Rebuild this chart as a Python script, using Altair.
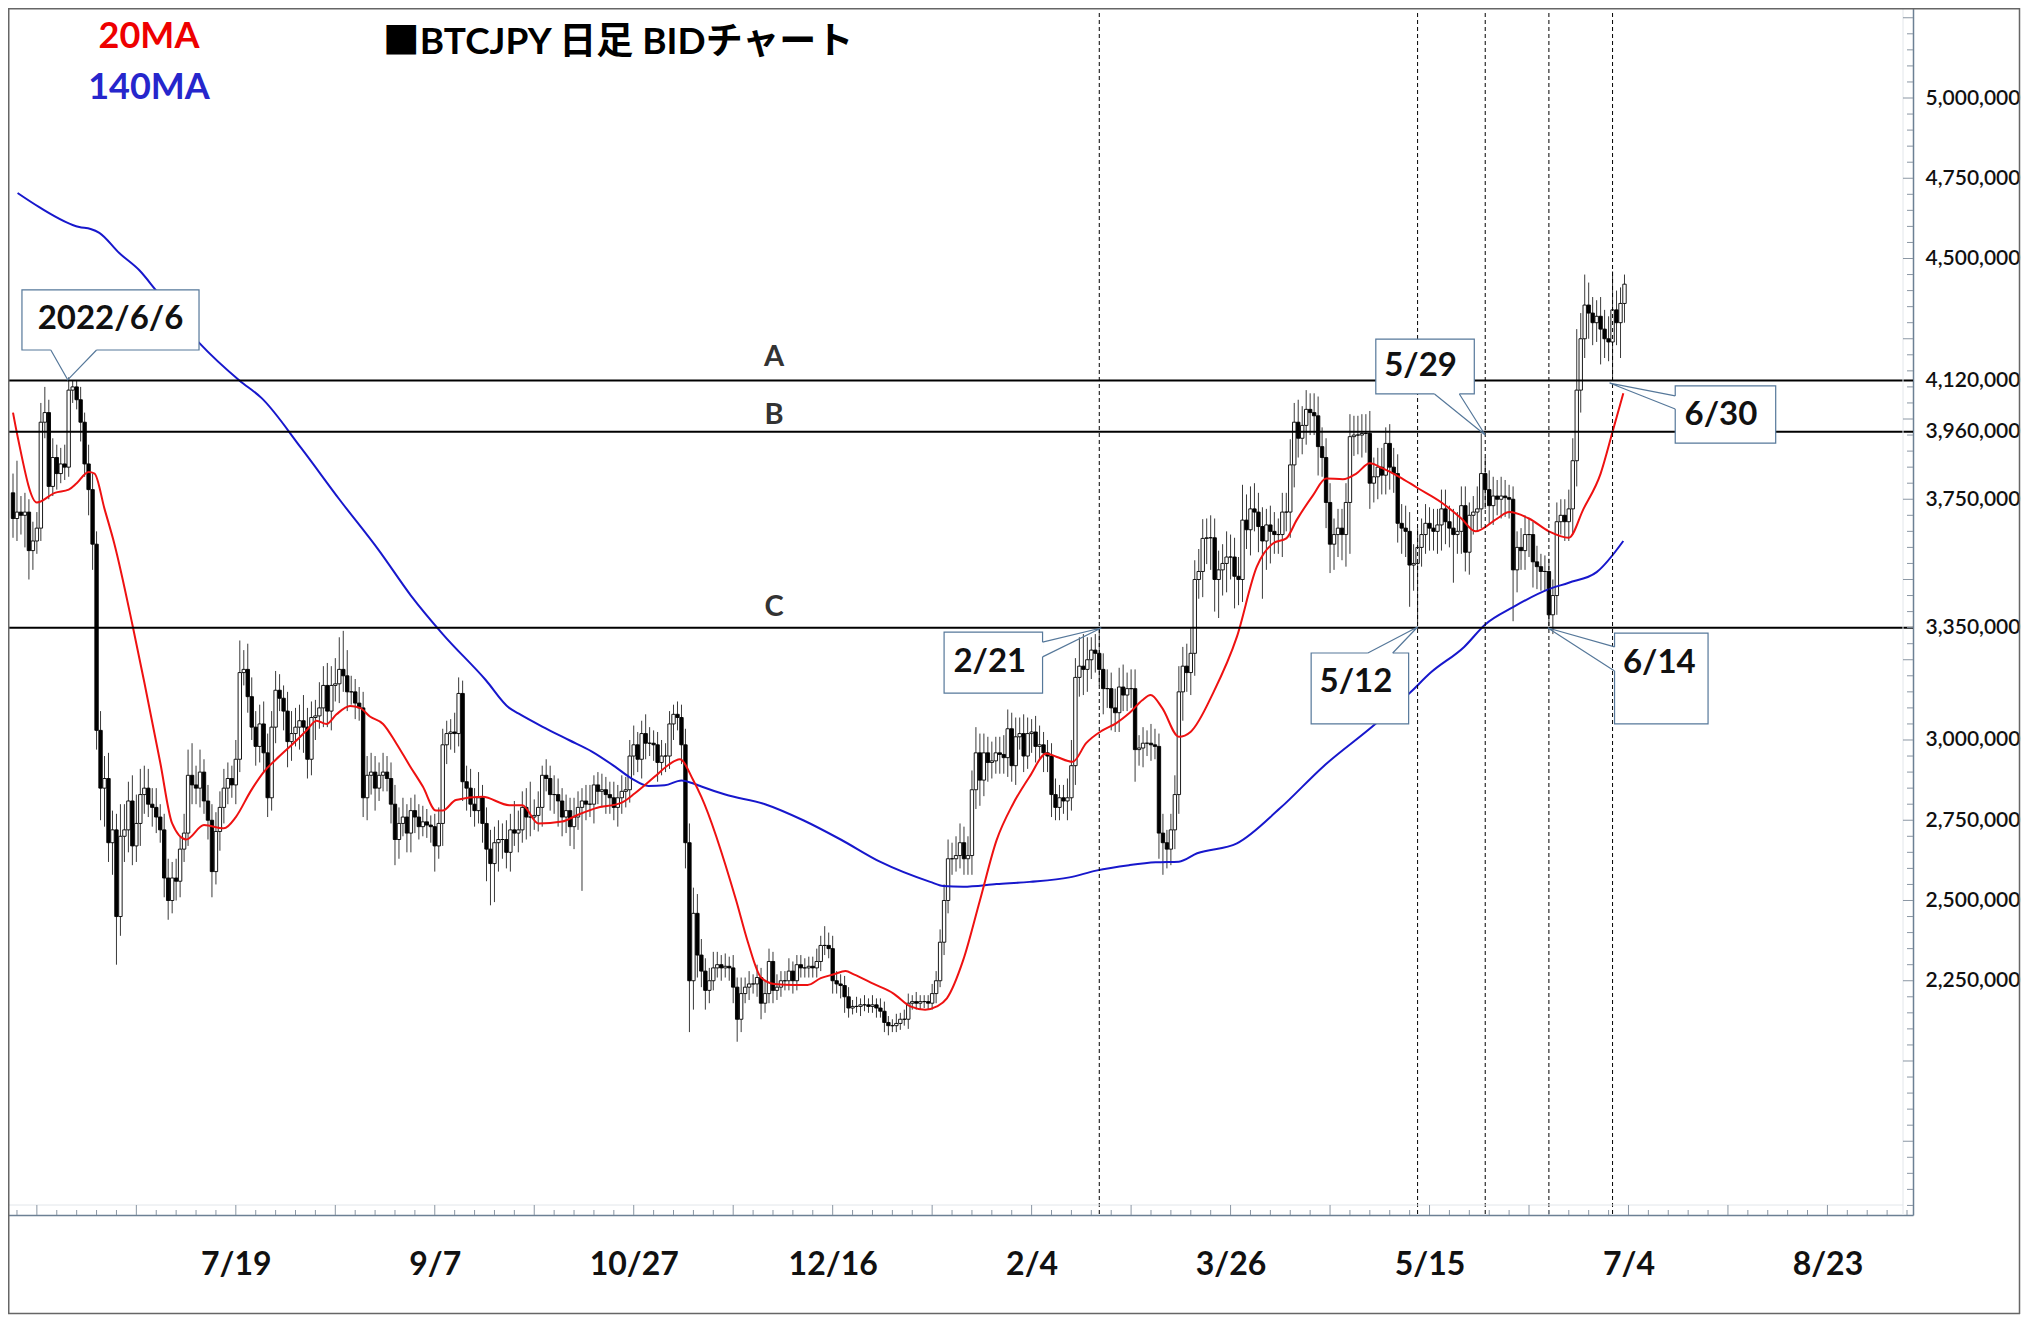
import altair as alt
import numpy as np
import pandas as pd

# ---------------- data ----------------
START = "2022-05-24"          # first daily candle
FIRST_OPEN_K = 3770           # open of the first candle (thousand JPY)

# daily closes, thousand JPY
CLOSE_K = [
    3690, 3710, 3700, 3710, 3590, 3620, 3660, 3990, 4020, 3790,
    3880, 3830, 3860, 3850, 4090, 4100, 4060, 3990, 3860, 3780,
    3610, 3030, 2850, 2880, 2680, 2720, 2450, 2700, 2720, 2810,
    2670, 2740, 2830, 2850, 2800, 2790, 2760, 2720, 2570, 2500,
    2570, 2560, 2660, 2710, 2890, 2860, 2850, 2900, 2810, 2750,
    2590, 2715, 2790, 2850, 2880, 2860, 2940, 3210, 3220, 3135,
    3040, 2980, 3050, 2960, 2820, 3040, 3155, 3130, 3090, 2995,
    3020, 3040, 3060, 3040, 2940, 3070, 3075, 3100, 3170, 3090,
    3170, 3175, 3220, 3200, 3150, 3150, 3115, 3100, 2820, 2890,
    2900, 2850, 2890, 2900, 2880, 2800, 2690, 2740, 2760, 2710,
    2780, 2760, 2730, 2745, 2735, 2730, 2670, 2740, 2985, 3020,
    3025, 3020, 3145, 2870, 2850, 2800, 2780, 2820, 2740, 2660,
    2615, 2680, 2690, 2690, 2650, 2720, 2710, 2720, 2790, 2760,
    2760, 2765, 2790, 2890, 2880, 2830, 2830, 2810, 2760, 2780,
    2730, 2760, 2790, 2810, 2800, 2800, 2860, 2840, 2845, 2830,
    2820, 2790, 2820, 2840, 2845, 2950, 2985, 2940, 3020, 2990,
    2990, 2985, 2930, 2950, 2950, 3050, 3080, 3070, 2985, 2680,
    2250, 2460, 2330, 2280, 2220, 2250, 2290, 2300, 2290, 2295,
    2290, 2230, 2130, 2210, 2230, 2240, 2240, 2260, 2180, 2210,
    2310, 2220, 2230, 2250, 2250, 2280, 2250, 2300, 2290, 2290,
    2295, 2290, 2310, 2360, 2360, 2350, 2250, 2240, 2235, 2200,
    2165, 2170, 2170, 2175, 2175, 2170, 2175, 2165, 2155, 2120,
    2110, 2110, 2117, 2130, 2130, 2180, 2185, 2180, 2185, 2185,
    2180, 2210, 2250, 2370, 2500, 2630, 2630, 2640, 2680, 2630,
    2640, 2845, 2960, 2875, 2960, 2930, 2935, 2960, 2955, 2945,
    3035, 2920, 3010, 3020, 2950, 3020, 3025, 2980, 2985, 2960,
    2950, 2830, 2790, 2820, 2810, 2820, 2920, 3195, 3230, 3220,
    3250, 3280, 3270, 3220, 3160, 3160, 3100, 3085, 3165, 3140,
    3160, 3160, 2970, 2975, 2990, 2990, 2985, 2980, 2710, 2680,
    2660, 2720, 2830, 3150, 3230, 3210, 3270, 3500, 3525, 3628,
    3630, 3630, 3500, 3530, 3550, 3570, 3570, 3510, 3500, 3685,
    3655, 3720, 3710, 3665, 3620, 3670, 3650, 3640, 3640, 3710,
    3710, 3857, 3990, 3940, 3980, 4030, 4020, 4010, 3914, 3880,
    3740, 3610, 3640, 3660, 3640, 3740, 3945, 3950, 3950, 3955,
    3955, 3800, 3820, 3850, 3825, 3924, 3850, 3830, 3675, 3660,
    3650, 3545, 3550, 3600, 3640, 3675, 3660, 3650, 3670, 3720,
    3680, 3660, 3640, 3650, 3730, 3585, 3700, 3710, 3720, 3830,
    3780, 3730, 3760, 3750, 3760, 3755, 3750, 3530, 3600, 3590,
    3640, 3640, 3555, 3540, 3525, 3525, 3390, 3450, 3680, 3700,
    3680, 3720, 3870, 4090, 4250, 4355, 4330, 4300, 4320, 4280,
    4250, 4240, 4340, 4300, 4360, 4420,
]

# upper wick above the body, thousand JPY
UP_WICK_K = [
    60, 160, 50, 60, 40, 60, 50, 60, 80, 40,
    60, 40, 50, 60, 40, 20, 20, 40, 30, 60,
    50, 40, 60, 70, 80, 60, 50, 100, 80, 60,
    80, 90, 80, 70, 60, 50, 60, 40, 50, 60,
    50, 60, 40, 60, 80, 100, 60, 70, 40, 50,
    50, 60, 50, 60, 50, 40, 60, 100, 60, 80,
    60, 50, 60, 70, 60, 50, 60, 50, 40, 60,
    70, 60, 50, 80, 60, 50, 50, 80, 60, 70,
    60, 80, 100, 120, 80, 50, 40, 50, 50, 60,
    60, 50, 40, 60, 50, 50, 60, 50, 60, 40,
    40, 50, 40, 50, 40, 30, 40, 50, 50, 40,
    40, 60, 50, 40, 50, 60, 50, 80, 40, 50,
    60, 50, 60, 50, 60, 50, 90, 60, 50, 60,
    110, 50, 50, 30, 50, 40, 60, 50, 40, 50,
    40, 60, 50, 40, 50, 60, 30, 40, 50, 40,
    40, 50, 40, 50, 40, 50, 60, 40, 40, 60,
    50, 40, 40, 50, 40, 40, 30, 40, 40, 50,
    60, 80, 60, 50, 40, 40, 50, 40, 30, 40,
    30, 40, 30, 50, 30, 40, 30, 40, 30, 40,
    40, 30, 40, 30, 30, 40, 30, 30, 30, 30,
    30, 30, 40, 30, 60, 40, 40, 30, 30, 30,
    30, 20, 30, 20, 30, 20, 30, 20, 30, 30,
    20, 20, 30, 20, 30, 30, 20, 30, 20, 20,
    20, 30, 30, 40, 50, 60, 50, 60, 60, 50,
    60, 60, 80, 60, 60, 50, 60, 50, 50, 60,
    60, 50, 60, 50, 60, 50, 40, 50, 60, 40,
    40, 40, 50, 40, 40, 60, 80, 60, 90, 100,
    70, 40, 50, 80, 50, 60, 50, 60, 60, 70,
    50, 60, 60, 40, 50, 40, 60, 50, 40, 60,
    40, 50, 60, 80, 60, 70, 80, 60, 70, 60,
    60, 70, 60, 60, 60, 80, 70, 60, 60, 110,
    80, 70, 80, 60, 60, 50, 60, 60, 50, 60,
    60, 80, 60, 70, 60, 60, 50, 60, 60, 60,
    60, 60, 50, 60, 60, 60, 70, 60, 60, 60,
    60, 70, 60, 60, 60, 50, 60, 60, 60, 60,
    70, 60, 60, 60, 50, 60, 50, 60, 50, 60,
    60, 50, 60, 60, 60, 60, 40, 50, 70, 125,
    50, 60, 60, 50, 60, 50, 40, 40, 50, 60,
    60, 50, 40, 50, 40, 50, 40, 50, 60, 50,
    50, 60, 70, 190, 80, 95, 70, 50, 50, 60,
    60, 70, 120, 60, 50, 30,
]

# lower wick below the body, thousand JPY
DN_WICK_K = [
    60, 70, 60, 100, 90, 60, 40, 40, 50, 40,
    30, 50, 30, 40, 30, 40, 30, 60, 40, 80,
    80, 60, 100, 120, 60, 100, 150, 60, 80, 70,
    60, 50, 70, 60, 40, 60, 50, 40, 60, 60,
    40, 60, 50, 40, 40, 60, 50, 60, 40, 60,
    80, 40, 60, 50, 50, 40, 60, 40, 40, 50,
    40, 60, 50, 60, 60, 40, 50, 40, 60, 80,
    60, 40, 70, 80, 60, 50, 70, 40, 60, 50,
    60, 50, 60, 50, 60, 40, 50, 40, 60, 70,
    60, 70, 40, 50, 40, 60, 80, 60, 40, 60,
    60, 50, 40, 30, 40, 50, 80, 40, 70, 60,
    50, 60, 40, 60, 70, 40, 50, 40, 60, 100,
    130, 120, 90, 60, 50, 60, 40, 60, 40, 70,
    60, 40, 50, 60, 40, 50, 60, 80, 60, 50,
    60, 70, 40, 260, 50, 40, 60, 40, 50, 60,
    50, 40, 60, 50, 50, 40, 60, 40, 60, 50,
    40, 50, 60, 40, 50, 40, 50, 40, 60, 80,
    160, 90, 70, 50, 60, 40, 30, 30, 40, 30,
    40, 50, 70, 40, 30, 40, 30, 40, 50, 30,
    30, 40, 30, 30, 30, 30, 40, 30, 30, 30,
    30, 30, 30, 30, 30, 30, 40, 30, 40, 50,
    30, 20, 20, 30, 20, 20, 20, 30, 20, 30,
    30, 20, 20, 20, 20, 30, 20, 20, 20, 20,
    20, 20, 30, 20, 40, 40, 50, 40, 40, 50,
    50, 60, 60, 80, 50, 60, 50, 40, 60, 50,
    60, 50, 60, 40, 50, 40, 60, 50, 40, 60,
    50, 70, 40, 40, 40, 60, 40, 60, 60, 80,
    70, 60, 60, 50, 80, 60, 70, 60, 60, 50,
    50, 60, 100, 50, 60, 40, 50, 40, 80, 100,
    60, 50, 60, 60, 90, 60, 70, 70, 60, 80,
    80, 100, 100, 120, 80, 90, 70, 100, 80, 70,
    60, 80, 60, 80, 180, 90, 100, 60, 60, 70,
    60, 80, 70, 60, 50, 60, 70, 60, 90, 60,
    80, 90, 80, 70, 80, 100, 160, 60, 60, 70,
    60, 80, 60, 70, 60, 60, 70, 60, 60, 80,
    80, 130, 80, 190, 60, 60, 70, 60, 70, 80,
    70, 60, 150, 60, 70, 60, 70, 60, 60, 60,
    60, 60, 60, 50, 60, 60, 60, 160, 70, 60,
    60, 70, 80, 70, 60, 60, 35, 60, 60, 40,
    60, 60, 80, 80, 70, 60, 80, 70, 60, 110,
    60, 60, 120, 70, 110, 60,
]

# 20-day moving average (day offset from START, million JPY)
MA20_DAY = [0, 1.25, 6, 10.5, 14, 16, 19, 20.5, 23, 25.5, 30, 33, 37, 40, 43.5, 48, 53, 56,
            59.7, 63, 67, 70.5, 73.8, 76.3, 78.8, 81.3, 84.7, 87.2, 89.7, 93, 96.3, 99.7, 103,
            106.3, 108, 111.3, 118, 124.7, 128, 132, 138, 142, 146.3, 153, 156.3, 161.3, 164.7,
            167.6, 170.9, 173, 181.75, 184.7, 188, 191.3, 196.3, 199.7, 203, 206.3, 209.25,
            211.3, 216.3, 221.3, 225.5, 229.25, 232.2, 234.7, 238.8, 243, 247.2, 251.3, 255.5,
            259.7, 262.2, 266.3, 269.7, 273.8, 277.2, 280.5, 283.8, 285.9, 288.8, 293, 296,
            301.75, 307.6, 312.6, 316.75, 320, 322.6, 326.75, 330, 334.25, 337.6, 341, 344.25,
            348.4, 353, 359, 364, 367.5, 373, 376, 381, 386, 391, 394.7, 399, 402, 404.7]
MA20_M = [4.02, 3.94, 3.74, 3.77, 3.78, 3.80, 3.835, 3.83, 3.72, 3.61, 3.36, 3.18, 2.93, 2.74,
          2.69, 2.735, 2.725, 2.76, 2.84, 2.90, 2.95, 2.99, 3.03, 3.06, 3.05, 3.08, 3.106, 3.10,
          3.073, 3.05, 2.99, 2.92, 2.855, 2.78, 2.78, 2.813, 2.823, 2.797, 2.797, 2.74, 2.746,
          2.767, 2.787, 2.805, 2.834, 2.886, 2.922, 2.94, 2.876, 2.823, 2.50, 2.37, 2.26, 2.24,
          2.237, 2.237, 2.258, 2.27, 2.28, 2.27, 2.24, 2.21, 2.17, 2.16, 2.17, 2.195, 2.314,
          2.50, 2.688, 2.80, 2.886, 2.958, 2.948, 2.932, 2.99, 3.03, 3.052, 3.083, 3.124, 3.14,
          3.10, 3.01, 3.026, 3.15, 3.322, 3.54, 3.613, 3.628, 3.685, 3.763, 3.815, 3.812, 3.83,
          3.862, 3.846, 3.82, 3.785, 3.74, 3.69, 3.65, 3.69, 3.71, 3.69, 3.65, 3.63, 3.72, 3.83,
          3.96, 4.08]

# 140-day moving average
MA140_DAY = [1.15, 6.6, 16.65, 19.5, 21.7, 26.7, 31.7, 36, 46.8, 56.9, 62.5, 72.4, 82, 92, 100,
             108, 118.8, 124.7, 127, 133, 139.7, 145.5, 151.3, 155.5, 159.7, 163.8, 168, 171.3,
             173, 179, 189, 198.6, 208, 218, 230.5, 233.8, 238.8, 247.2, 255.5, 265.5, 272.2,
             280.5, 287.2, 293, 297.6, 307.6, 318.4, 329.25, 342.6, 351, 356.3, 364.7, 370, 377,
             386, 391, 398, 404.7]
MA140_M = [4.704, 4.66, 4.598, 4.592, 4.58, 4.517, 4.464, 4.40, 4.237, 4.12, 4.065, 3.91, 3.75,
           3.59, 3.45, 3.33, 3.187, 3.10, 3.083, 3.042, 3.0, 2.964, 2.917, 2.88, 2.857, 2.859,
           2.874, 2.863, 2.855, 2.83, 2.80, 2.75, 2.69, 2.62, 2.558, 2.545, 2.543, 2.551, 2.558,
           2.572, 2.593, 2.61, 2.619, 2.621, 2.647, 2.678, 2.787, 2.917, 3.052, 3.146, 3.21,
           3.29, 3.36, 3.414, 3.47, 3.49, 3.523, 3.62]

LEVEL_NAMES = ["A", "B", "C"]
LEVEL_VALUES = [4120000, 3960000, 3350000]
LEVEL_LABEL_M = [4.192, 4.012, 3.414]
LEVEL_LABEL_DAY = 191.25

EVENT_DATES = ["2023-02-21", "2023-05-12", "2023-05-29", "2023-06-14", "2023-06-30"]

Y_LABELS = [5000000, 4750000, 4500000, 4120000, 3960000, 3750000,
            3350000, 3000000, 2750000, 2500000, 2250000]
X_LABEL_DATES = ["2022-07-19", "2022-09-07", "2022-10-27", "2022-12-16", "2023-02-04",
                 "2023-03-26", "2023-05-15", "2023-07-04", "2023-08-23"]

CALLOUT_TEXT = ["2022/6/6", "5/29", "6/30", "2/21", "5/12", "6/14"]
CALLOUT_TEXT_AT = [(24.5, 4.31), (353.75, 4.165), (429.25, 4.012),
                   (245.5, 3.243), (337.5, 3.181), (413.75, 3.24)]
CALLOUT_BOX = [(2.25, 46.75, 4.215, 4.402), (342.5, 367.25, 4.078, 4.249),
               (417.75, 443.0, 3.925, 4.103), (234.0, 258.75, 3.146, 3.336),
               (326.25, 350.75, 3.05, 3.271), (402.5, 426.0, 3.05, 3.333)]
CALLOUT_PTR = [((9.5, 4.215), (13.75, 4.122), (21.0, 4.215)),
               ((357.25, 4.078), (370.0, 3.95), (363.5, 4.078)),
               ((417.75, 4.072), (401.25, 4.112), (417.75, 4.031)),
               ((258.75, 3.305), (273.5, 3.349), (258.75, 3.259)),
               ((340.5, 3.271), (353.0, 3.352), (346.75, 3.271)),
               ((402.5, 3.29), (385.75, 3.349), (402.5, 3.215))]

assert len(CLOSE_K) == len(UP_WICK_K) == len(DN_WICK_K)
assert len(MA20_DAY) == len(MA20_M) and len(MA140_DAY) == len(MA140_M)

# ---------------- frames ----------------
D0 = pd.Timestamp(START)


def day(x):
    return D0 + pd.Timedelta(minutes=int(round(x * 1440)))


def dt(ts):
    ts = pd.Timestamp(ts)
    return alt.DateTime(year=ts.year, month=ts.month, date=ts.day,
                        hours=ts.hour, minutes=ts.minute)


n = len(CLOSE_K)
close = np.array(CLOSE_K, dtype=float) * 1000
open_ = np.concatenate([[FIRST_OPEN_K], CLOSE_K[:-1]]).astype(float) * 1000
high = np.maximum(open_, close) + np.array(UP_WICK_K) * 1000
low = np.minimum(open_, close) - np.array(DN_WICK_K) * 1000
candles = pd.DataFrame({
    "date": [day(i) for i in range(n)],
    "open": open_, "close": close, "high": high, "low": low,
})

ma20 = pd.DataFrame({"date": [day(d) for d in MA20_DAY], "v": np.array(MA20_M) * 1e6})
ma140 = pd.DataFrame({"date": [day(d) for d in MA140_DAY], "v": np.array(MA140_M) * 1e6})
levels = pd.DataFrame({"name": LEVEL_NAMES, "v": LEVEL_VALUES,
                       "ly": np.array(LEVEL_LABEL_M) * 1e6,
                       "date": [day(LEVEL_LABEL_DAY)] * 3})
events = pd.DataFrame({"date": pd.to_datetime(EVENT_DATES)})

boxes = pd.DataFrame({
    "x1": [day(b[0]) for b in CALLOUT_BOX], "x2": [day(b[1]) for b in CALLOUT_BOX],
    "y1": [b[2] * 1e6 for b in CALLOUT_BOX], "y2": [b[3] * 1e6 for b in CALLOUT_BOX],
})
ptr_rows, gap_rows = [], []
for k, (b1, tip, b2) in enumerate(CALLOUT_PTR):
    for o, p in enumerate((b1, tip, b2)):
        ptr_rows.append({"cid": k, "o": o, "date": day(p[0]), "v": p[1] * 1e6})
    gap_rows.append({"x1": day(b1[0]), "x2": day(b2[0]), "y1": b1[1] * 1e6, "y2": b2[1] * 1e6})
pointers = pd.DataFrame(ptr_rows)
gaps = pd.DataFrame(gap_rows)
texts = pd.DataFrame({"t": CALLOUT_TEXT,
                      "date": [day(p[0]) for p in CALLOUT_TEXT_AT],
                      "v": [p[1] * 1e6 for p in CALLOUT_TEXT_AT]})

# axis scaffolding (tick marks drawn inside the frame)
x_end = D0 + pd.Timedelta(hours=476 * 24 + 6)
xt = pd.date_range(pd.Timestamp("2022-07-19") - pd.Timedelta(days=55), x_end, freq="5D")
xt_df = pd.DataFrame({"date": xt})
xt_df["major"] = ((xt_df["date"] - pd.Timestamp("2022-07-19")).dt.days % 25) == 0
yt = np.arange(1550000, 5250001, 50000)
yt_df = pd.DataFrame({"v": yt, "major": (yt % 250000) == 0})

# ---------------- chart ----------------
W, H = 1905, 1207
FONT = "Lato, 'Noto Sans CJK JP', sans-serif"
AXC = "#6c8094"
BOXC = "#56789a"

xs = alt.Scale(domain=[dt(D0), dt(x_end)])
ys = alt.Scale(domain=[1520200, 5280400], zero=False, nice=False)

x_axis = alt.Axis(values=[dt(d) for d in X_LABEL_DATES], format="%-m/%-d", labelFont=FONT,
                  labelFontSize=32, labelFontWeight="bold", labelColor="#111",
                  labelPadding=34, ticks=False, domainColor=AXC, domainWidth=1.5,
                  grid=False, title=None, labelOverlap=False, labelFlush=False)
y_axis = alt.Axis(orient="right", values=Y_LABELS, format=",d", labelFont=FONT,
                  labelFontSize=21, labelFontWeight=600, labelColor="#111", labelPadding=12,
                  ticks=False, domainColor=AXC, domainWidth=1.5, grid=False, title=None,
                  labelOverlap=False)


def X(field="date:T", **kw):
    return alt.X(field, scale=xs, axis=x_axis, **kw)


def Y(field, **kw):
    return alt.Y(field, scale=ys, axis=y_axis, **kw)


wicks = alt.Chart(candles).mark_rule(color="#3a3a3a", strokeWidth=1, clip=True).encode(
    x=X(), y=Y("low:Q"), y2="high:Q")

bodies = alt.Chart(candles).mark_bar(size=3.4, stroke="black", strokeWidth=0.9,
                                     clip=True).encode(
    x=X(), y=Y("open:Q"), y2="close:Q",
    fill=alt.condition("datum.close >= datum.open", alt.value("white"), alt.value("black")))

line20 = alt.Chart(ma20).mark_line(color="#ee1111", strokeWidth=2, interpolate="monotone",
                                   clip=True).encode(x=X(), y=Y("v:Q"))
line140 = alt.Chart(ma140).mark_line(color="#1717cc", strokeWidth=2, interpolate="monotone",
                                     clip=True).encode(x=X(), y=Y("v:Q"))

level_rules = alt.Chart(levels).mark_rule(color="black", strokeWidth=2).encode(
    y=Y("v:Q"), x=alt.value(0), x2=alt.value(W))
level_text = alt.Chart(levels).mark_text(font=FONT, fontSize=29, fontWeight="bold",
                                         color="#333", baseline="middle").encode(
    x=X(), y=Y("ly:Q"), text="name:N")

event_rules = alt.Chart(events).mark_rule(color="black", strokeWidth=1,
                                          strokeDash=[4, 3]).encode(
    x=X(), y=alt.value(5), y2=alt.value(H))

xt_major = alt.Chart(xt_df[xt_df.major]).mark_rule(color="#8a96a3", strokeWidth=1).encode(
    x=X(), y=alt.value(H - 10), y2=alt.value(H))
xt_minor = alt.Chart(xt_df[~xt_df.major]).mark_rule(color="#8a96a3", strokeWidth=1).encode(
    x=X(), y=alt.value(H - 5), y2=alt.value(H))
yt_major = alt.Chart(yt_df[yt_df.major]).mark_rule(color="#8a96a3", strokeWidth=1).encode(
    y=Y("v:Q"), x=alt.value(W - 10), x2=alt.value(W))
yt_minor = alt.Chart(yt_df[~yt_df.major]).mark_rule(color="#8a96a3", strokeWidth=1).encode(
    y=Y("v:Q"), x=alt.value(W - 6), x2=alt.value(W))
inner_frame_df = pd.DataFrame({"k": [0]})
inner_v = alt.Chart(inner_frame_df).mark_rule(color="#e2e6ea", strokeWidth=1).encode(
    x=alt.value(W - 10), y=alt.value(0), y2=alt.value(H))
inner_h = alt.Chart(inner_frame_df).mark_rule(color="#e2e6ea", strokeWidth=1).encode(
    x=alt.value(0), x2=alt.value(W - 10), y=alt.value(H - 10))

box_marks = alt.Chart(boxes).mark_rect(fill="white", stroke=BOXC, strokeWidth=1.2).encode(
    x=X("x1:T"), x2="x2:T", y=Y("y1:Q"), y2="y2:Q")
gap_marks = alt.Chart(gaps).mark_rule(color="white", strokeWidth=2.6).encode(
    x=X("x1:T"), x2="x2:T", y=Y("y1:Q"), y2="y2:Q")
ptr_marks = alt.Chart(pointers).mark_line(color=BOXC, strokeWidth=1.2).encode(
    x=X(), y=Y("v:Q"), detail="cid:N", order="o:Q")
text_marks = alt.Chart(texts).mark_text(font=FONT, fontSize=33, fontWeight="bold",
                                        color="#111", baseline="middle").encode(
    x=X(), y=Y("v:Q"), text="t:N")

legend_df = pd.DataFrame({"t": ["20MA", "140MA"], "c": ["#ee0000", "#2626cc"],
                          "yy": [29, 80]})
legend = alt.Chart(legend_df).mark_text(font=FONT, fontSize=36, fontWeight="bold",
                                        baseline="middle").encode(
    x=alt.value(141), y=alt.Y("yy:Q", scale=None), text="t:N",
    color=alt.Color("c:N", scale=None))
title_df = pd.DataFrame({"t": ["■BTCJPY 日足 BIDチャート"]})
title = alt.Chart(title_df).mark_text(font=FONT, fontSize=37, fontWeight="bold",
                                      color="black", baseline="middle").encode(
    x=alt.value(610), y=alt.value(35), text="t:N")

frame_df = pd.DataFrame({"k": [0]})
fr_l = alt.Chart(frame_df).mark_rule(color="#666", strokeWidth=1.5).encode(
    x=alt.value(0.75), y=alt.value(0), y2=alt.value(1306))
fr_t = alt.Chart(frame_df).mark_rule(color="#666", strokeWidth=1.5).encode(
    x=alt.value(0), x2=alt.value(2012), y=alt.value(0.75))
fr_r = alt.Chart(frame_df).mark_rule(color="#666", strokeWidth=1.5).encode(
    x=alt.value(2011.5), y=alt.value(0), y2=alt.value(1306))
fr_b = alt.Chart(frame_df).mark_rule(color="#666", strokeWidth=1.5).encode(
    x=alt.value(0), x2=alt.value(2012), y=alt.value(1305.5))

chart = alt.layer(
    wicks, bodies, line140, line20, level_rules, event_rules, level_text,
    inner_v, inner_h, xt_major, xt_minor, yt_major, yt_minor,
    box_marks, gap_marks, ptr_marks, text_marks, legend, title,
    fr_l, fr_t, fr_r, fr_b,
).properties(
    width=W, height=H,
    autosize=alt.AutoSizeParams(type="none"),
    padding={"left": 0, "top": 0, "right": 108, "bottom": 100},
).configure(background="white").configure_view(stroke=None)

chart.save("out.html", embed_options={"renderer": "svg", "actions": False})
